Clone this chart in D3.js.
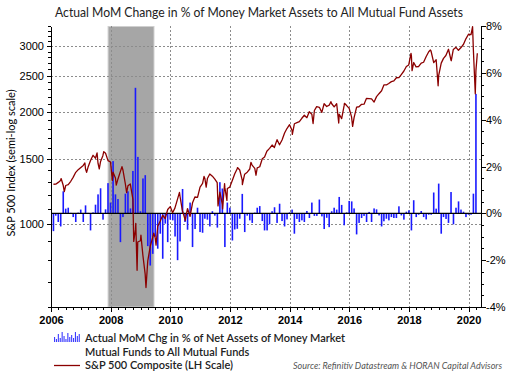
<!DOCTYPE html>
<html>
<head>
<meta charset="utf-8">
<script src="https://cdn.jsdelivr.net/npm/d3@7"></script>
<style>
  body { margin: 0; background: #fff; }
  svg { display: block; font-family: Lato, "Liberation Sans", sans-serif; }
  .axis path, .axis line { stroke: #000; shape-rendering: crispEdges; }
  .axis text { fill: #000; }
</style>
</head>
<body>
<div class="chart"></div>
<script>
// DATA ------------------------------

// monthly MoM change (%) of money market share of all mutual fund assets, Jan 2006 .. Mar 2020
const mmStart = [2006, 0];
const mmChange = [
  -0.76, -0.10, -0.37, -0.56, 0.94, 0.20, 0.24, 0.02, -0.16, -0.37, 0.03, 0.16,   // 2006
  -0.37, 0.34, 0.02, -0.73, 0.04, 0.37, 0.81, 1.07, -0.27, 0.17, 1.29, 0.46,      // 2007
  2.23, 0.81, 0.61, -1.23, -0.16, 0.84, 0.94, 0.21, 1.81, 5.36, 2.41, 0.09,       // 2008
  1.49, 1.63, -1.40, -2.23, -1.73, -1.00, -1.51, -0.87, -1.94, -0.44, -1.23, -0.27, // 2009
  -0.30, -0.99, -2.00, -1.20, 1.04, -0.37, -0.70, 0.46, -1.44, -0.67, 0.24, -0.80, // 2010
  -0.83, -0.23, -0.27, -0.56, 0.09, -0.10, -0.61, 1.33, 1.06, -1.44, 0.46, 0.24,  // 2011
  -1.16, -0.69, -0.66, -0.23, 0.83, -0.80, -0.10, -0.30, -0.41, 0.03, 0.24, 0.31, // 2012
  -0.33, -0.73, -0.73, -0.47, 0.09, 0.26, -0.41, 0.41, -0.33, -0.56, -0.26, 0.04, // 2013
  0.16, -0.87, -0.24, -0.37, -0.30, -0.37, 0.10, -0.20, 0.46, -0.11, -0.11, 0.59, // 2014
  -0.13, -0.67, -0.19, -0.59, 0.09, 0.24, 0.16, 0.70, 0.36, -0.51, 0.04, 0.53,    // 2015
  0.51, 0.21, -0.90, -0.41, -0.20, -0.11, -0.37, 0.06, -0.37, 0.21, 0.17, -0.09,  // 2016
  -0.56, -0.34, -0.23, -0.30, -0.16, -0.20, -0.20, 0.30, -0.09, -0.27, 0.07, 0.13, // 2017
  -0.73, 0.56, -0.16, -0.06, 0.10, -0.16, -0.26, -0.06, -0.06, 0.89, 0.20, 1.27,  // 2018
  -0.87, -0.16, -0.24, -0.41, 0.91, -0.47, 0.24, 0.51, 0.16, 0.07, -0.16, -0.06,  // 2019
  -0.06, 0.84, 5.10                                                               // 2020
];

// S&P 500 closes (month ends plus the main turning points)
const spxDates = [
  "2006-01-31","2006-02-28","2006-03-31","2006-04-28","2006-05-05","2006-05-31","2006-06-13","2006-06-30","2006-07-31","2006-08-31","2006-09-29","2006-10-31","2006-11-30","2006-12-29",
  "2007-01-31","2007-02-20","2007-02-28","2007-03-13","2007-03-30","2007-04-30","2007-05-31","2007-06-29","2007-07-19","2007-07-31","2007-08-15","2007-08-31","2007-09-28","2007-10-09","2007-10-31","2007-11-30","2007-12-31",
  "2008-01-22","2008-01-31","2008-02-29","2008-03-10","2008-03-31","2008-04-30","2008-05-19","2008-05-30","2008-06-30","2008-07-15","2008-07-31","2008-08-29","2008-09-30","2008-10-10","2008-10-31","2008-11-04","2008-11-20","2008-11-28","2008-12-31",
  "2009-01-06","2009-01-30","2009-02-27","2009-03-09","2009-03-31","2009-04-30","2009-05-29","2009-06-12","2009-06-30","2009-07-10","2009-07-31","2009-08-31","2009-09-30","2009-10-30","2009-11-30","2009-12-31",
  "2010-01-29","2010-02-26","2010-03-31","2010-04-23","2010-04-30","2010-05-28","2010-06-30","2010-07-02","2010-07-30","2010-08-31","2010-09-30","2010-10-29","2010-11-30","2010-12-31",
  "2011-01-31","2011-02-18","2011-02-28","2011-03-16","2011-03-31","2011-04-29","2011-05-31","2011-06-30","2011-07-29","2011-08-08","2011-08-31","2011-09-30","2011-10-03","2011-10-27","2011-10-31","2011-11-25","2011-11-30","2011-12-30",
  "2012-01-31","2012-02-29","2012-03-30","2012-04-02","2012-04-30","2012-05-31","2012-06-01","2012-06-29","2012-07-31","2012-08-31","2012-09-14","2012-09-28","2012-10-31","2012-11-15","2012-11-30","2012-12-31",
  "2013-01-31","2013-02-28","2013-03-28","2013-04-30","2013-05-31","2013-06-28","2013-07-31","2013-08-30","2013-09-30","2013-10-31","2013-11-29","2013-12-31",
  "2014-01-31","2014-02-03","2014-02-28","2014-03-31","2014-04-30","2014-05-30","2014-06-30","2014-07-31","2014-08-29","2014-09-30","2014-10-15","2014-10-31","2014-11-28","2014-12-31",
  "2015-01-30","2015-02-27","2015-03-31","2015-04-30","2015-05-21","2015-05-29","2015-06-30","2015-07-31","2015-08-25","2015-08-31","2015-09-30","2015-10-30","2015-11-03","2015-11-30","2015-12-31",
  "2016-01-29","2016-02-11","2016-02-29","2016-03-31","2016-04-29","2016-05-31","2016-06-30","2016-07-29","2016-08-31","2016-09-30","2016-10-31","2016-11-30","2016-12-30",
  "2017-01-31","2017-02-28","2017-03-31","2017-04-28","2017-05-31","2017-06-30","2017-07-31","2017-08-31","2017-09-29","2017-10-31","2017-11-30","2017-12-29",
  "2018-01-26","2018-01-31","2018-02-08","2018-02-28","2018-03-29","2018-04-30","2018-05-31","2018-06-29","2018-07-31","2018-08-31","2018-09-20","2018-09-28","2018-10-31","2018-11-30","2018-12-24","2018-12-31",
  "2019-01-31","2019-02-28","2019-03-29","2019-04-30","2019-05-31","2019-06-03","2019-06-28","2019-07-31","2019-08-30","2019-09-30","2019-10-31","2019-11-29","2019-12-31",
  "2020-01-31","2020-02-19","2020-02-28","2020-03-23","2020-03-31","2020-04-17"
];
const spxCloses = [
  1280.1,1280.7,1294.8,1310.6,1325.8,1270.1,1223.7,1270.2,1276.7,1303.8,1335.9,1377.9,1400.6,1418.3,
  1438.2,1459.7,1406.8,1377.9,1420.9,1482.4,1530.6,1503.4,1553.1,1455.3,1406.7,1473.9,1526.8,1565.2,1549.4,1481.1,1468.4,
  1310.5,1378.6,1330.6,1273.4,1322.7,1385.6,1426.6,1400.4,1280.0,1214.9,1267.4,1282.8,1166.4,899.2,968.8,1005.8,752.4,896.2,903.3,
  934.7,825.9,735.1,676.5,797.9,872.8,919.1,946.2,919.3,879.1,987.5,1020.6,1057.1,1036.2,1095.6,1115.1,
  1073.9,1104.5,1169.4,1217.3,1186.7,1089.4,1030.7,1022.6,1101.6,1049.3,1141.2,1183.3,1180.6,1257.6,
  1286.1,1343.0,1327.2,1256.9,1325.8,1363.6,1345.2,1320.6,1292.3,1119.5,1218.9,1131.4,1099.2,1284.6,1253.3,1158.7,1247.0,1257.6,
  1312.4,1365.7,1408.5,1419.0,1397.9,1310.3,1278.0,1362.2,1379.3,1406.6,1465.8,1440.7,1412.2,1353.3,1416.2,1426.2,
  1498.1,1514.7,1569.2,1597.6,1630.7,1606.3,1685.7,1633.0,1681.6,1756.5,1805.8,1848.4,
  1782.6,1741.9,1859.5,1872.3,1883.9,1923.6,1960.2,1930.7,2003.4,1972.3,1862.5,2018.1,2067.6,2058.9,
  1995.0,2104.5,2067.9,2085.5,2130.8,2107.4,2063.1,2103.8,1867.6,1972.2,1920.0,2079.4,2109.8,2080.4,2043.9,
  1940.2,1829.1,1932.2,2059.7,2065.3,2096.9,2098.9,2173.6,2170.9,2168.3,2126.2,2198.8,2238.8,
  2278.9,2363.6,2362.7,2384.2,2411.8,2423.4,2470.3,2471.7,2519.4,2575.3,2647.6,2673.6,
  2872.9,2823.8,2581.0,2713.8,2640.9,2648.1,2705.3,2718.4,2816.3,2901.5,2930.8,2914.0,2711.7,2760.2,2351.1,2506.9,
  2704.1,2784.5,2834.4,2945.8,2752.1,2744.5,2941.8,2980.4,2926.5,2976.7,3037.6,3141.0,3230.8,
  3225.5,3386.2,2954.2,2237.4,2584.6,2874.6
];

const recession = ["2007-12-01", "2009-06-15"];
const leftMajor = [1000, 1500, 2000, 2500, 3000];
const rightMajor = [-4, -2, 0, 2, 4, 6, 8];
const legendIcon = [5, 3, 8, 4, 10, 6, 3, 9, 5, 7, 4, 10, 6, 8];

// CHART INIT ------------------------------

const width = 510, height = 375;
const margin = {top: 26, left: 51, right: 29, bottom: 68};
const plotW = width - margin.left - margin.right,
      plotH = height - margin.top - margin.bottom;

const parse = d3.timeParse("%Y-%m-%d");

const svg = d3.select('.chart')
    .append('svg')
    .attr("width", width)
    .attr("height", height);

const g = svg.append("g")
    .attr("transform", "translate(" + margin.left + "," + margin.top + ")");

const xScale = d3.scaleTime()
    .domain([new Date(2006, 0, 1), new Date(2020, 5, 1)])
    .range([0, plotW]);

const yLeft = d3.scaleLog()
    .domain([600, 3400])
    .range([plotH, 0]);

const yRight = d3.scaleLinear()
    .domain([-4, 8])
    .range([plotH, 0]);

// recession shading
g.append("rect")
    .attr("x", xScale(parse(recession[0])))
    .attr("y", 0.5)
    .attr("width", xScale(parse(recession[1])) - xScale(parse(recession[0])))
    .attr("height", plotH - 0.5)
    .attr("fill", "#a6a6a6")
    .attr("stroke", "#cfcfcf")
    .attr("stroke-width", 1);

// gridlines
g.append("g")
    .selectAll("line")
    .data(leftMajor)
    .join("line")
    .attr("x1", 0).attr("x2", plotW)
    .attr("y1", d => Math.round(yLeft(d)) + 0.5)
    .attr("y2", d => Math.round(yLeft(d)) + 0.5)
    .attr("stroke", "#8c8c8c")
    .attr("stroke-dasharray", "2,2");

g.append("g")
    .selectAll("line")
    .data(d3.range(2008, 2021, 2))
    .join("line")
    .attr("x1", d => Math.round(xScale(new Date(d, 0, 1))) + 0.5)
    .attr("x2", d => Math.round(xScale(new Date(d, 0, 1))) + 0.5)
    .attr("y1", 0).attr("y2", plotH)
    .attr("stroke", "#8c8c8c")
    .attr("stroke-dasharray", "2,2");

// bars
const barData = mmChange.map((v, i) => ({
    date: new Date(mmStart[0], mmStart[1] + i + 1, 0),
    value: v
}));

g.selectAll(".bar")
    .data(barData)
    .join("rect")
    .attr("class", "bar")
    .attr("x", d => xScale(d.date) - 0.8)
    .attr("width", 1.6)
    .attr("y", d => yRight(Math.max(0, d.value)))
    .attr("height", d => Math.abs(yRight(d.value) - yRight(0)))
    .style("fill", "#1a1aff");

// zero line
g.append("line")
    .attr("x1", 0).attr("x2", plotW)
    .attr("y1", yRight(0)).attr("y2", yRight(0))
    .attr("stroke", "#000")
    .attr("stroke-width", 1.3);

// S&P line
const spx = spxDates.map((d, i) => ({date: parse(d), value: spxCloses[i]}));

g.append("path")
    .datum(spx)
    .attr("fill", "none")
    .attr("stroke", "#8b0000")
    .attr("stroke-width", 1.3)
    .attr("stroke-linejoin", "round")
    .attr("d", d3.line().x(d => xScale(d.date)).y(d => yLeft(d.value)));

// axes
const leftMinor = d3.range(600, 3401, 100).filter(d => !leftMajor.includes(d));

g.append("g")
    .attr("class", "axis")
    .call(d3.axisLeft(yLeft).tickValues(leftMinor).tickSize(3).tickSizeOuter(0).tickFormat(""));

g.append("g")
    .attr("class", "axis y-axis")
    .call(d3.axisLeft(yLeft).tickValues(leftMajor).tickSize(4).tickSizeOuter(0).tickFormat(d3.format("d")))
    .call(a => a.selectAll("text").attr("font-size", 11).attr("x", -7));

g.append("g")
    .attr("class", "axis")
    .attr("transform", "translate(" + plotW + ",0)")
    .call(d3.axisRight(yRight).tickValues(d3.range(-4, 8.01, 0.5)).tickSize(3).tickSizeOuter(0).tickFormat(""));

g.append("g")
    .attr("class", "axis")
    .attr("transform", "translate(" + plotW + ",0)")
    .call(d3.axisRight(yRight).tickValues(rightMajor).tickSize(5).tickSizeOuter(0).tickFormat(d => d + "%"))
    .call(a => a.selectAll("text").attr("font-size", 11).attr("x", 5));

g.append("g")
    .attr("class", "axis")
    .attr("transform", "translate(0," + plotH + ")")
    .call(d3.axisBottom(xScale).ticks(d3.timeMonth.every(3)).tickSize(3).tickSizeOuter(0).tickFormat(""));

g.append("g")
    .attr("class", "axis x-axis")
    .attr("transform", "translate(0," + plotH + ")")
    .call(d3.axisBottom(xScale).ticks(d3.timeYear.every(2)).tickSize(5).tickSizeOuter(0).tickFormat(d3.timeFormat("%Y")))
    .call(a => a.selectAll("text").attr("font-size", 11).attr("font-weight", "bold").attr("y", 9));

// titles
svg.append("text")
    .attr("x", 259).attr("y", 17)
    .attr("text-anchor", "middle")
    .attr("font-size", 12.5)
    .attr("textLength", 408)
    .attr("lengthAdjust", "spacingAndGlyphs")
    .attr("fill", "#222")
    .text("Actual MoM Change in % of Money Market Assets to All Mutual Fund Assets");

svg.append("text")
    .attr("transform", "translate(15,163) rotate(-90)")
    .attr("text-anchor", "middle")
    .attr("font-size", 11)
    .text("S&P 500 Index (semi-log scale)");

// legend
const leg = svg.append("g").attr("transform", "translate(54,342)");
leg.selectAll("rect")
    .data(legendIcon)
    .join("rect")
    .attr("x", (d, i) => i * 1.9)
    .attr("y", d => -d)
    .attr("width", 1.1)
    .attr("height", d => d)
    .attr("fill", "#3b3bff");

leg.append("line")
    .attr("x1", 0).attr("x2", 26)
    .attr("y1", 23.5).attr("y2", 23.5)
    .attr("stroke", "#8b0000")
    .attr("stroke-width", 1.3);

const legText = [
    ["Actual MoM Chg in % of Net Assets of Money Market", 0],
    ["Mutual Funds to All Mutual Funds", 14],
    ["S&P 500 Composite (LH Scale)", 27]
];
leg.selectAll("text")
    .data(legText)
    .join("text")
    .attr("x", 31)
    .attr("y", d => d[1])
    .attr("font-size", 11)
    .attr("font-weight", 600)
    .attr("fill", "#222")
    .text(d => d[0]);

svg.append("text")
    .attr("x", 502).attr("y", 369)
    .attr("text-anchor", "end")
    .attr("font-size", 9)
    .attr("font-style", "italic")
    .attr("fill", "#555")
    .text("Source: Refinitiv Datastream & HORAN Capital Advisors");
</script>
</body>
</html>
